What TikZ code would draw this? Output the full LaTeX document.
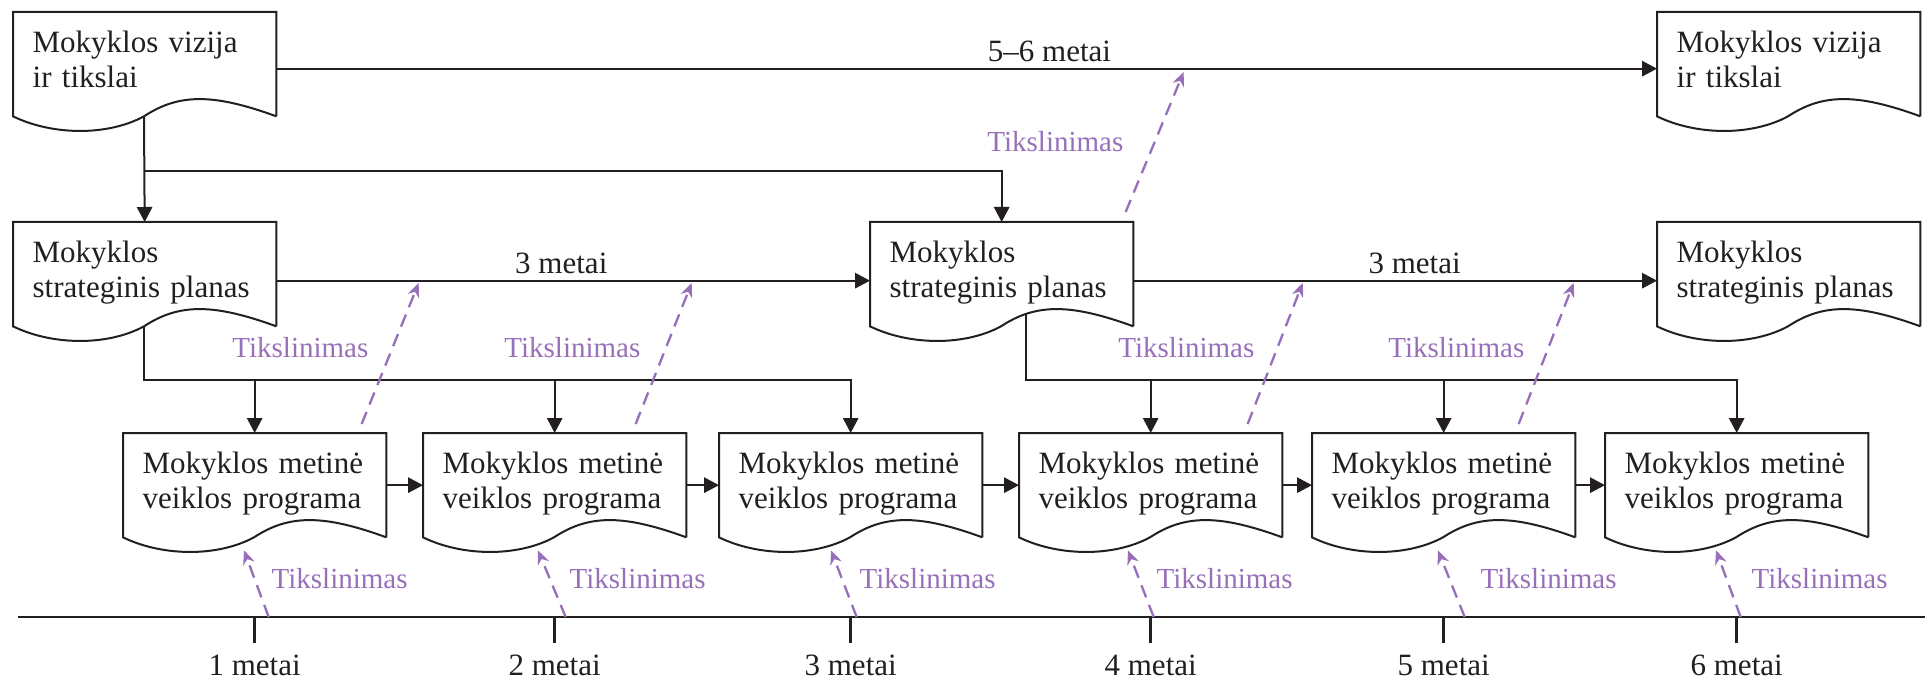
\documentclass[tikz,border=0pt]{standalone}
\usepackage{fontspec}
\setmainfont{Liberation Serif}
\usetikzlibrary{arrows.meta,calc}
\definecolor{ink}{HTML}{231F20}
\definecolor{fixcol}{HTML}{9870BA}
\begin{document}
\begin{tikzpicture}[x=0.3pt,y=-0.3pt,
    font=\fontsize{9.3}{10.5}\selectfont,color=ink,
    doc/.style={rectangle,anchor=north west,inner xsep=5.7pt,inner ysep=0pt,
      minimum width=78.6pt,minimum height=30.9pt,text width=67.2pt,align=left,
      text height=6.3pt,text depth=13.2pt},
    outline/.style={draw=ink,line width=0.6pt},
    conn/.style={draw=ink,line width=0.6pt,-{Triangle[length=4.5pt,width=4.6pt]}},
    lbl/.style={above,inner sep=1.8pt},
    axis/.style={draw=ink,line width=0.8pt},
    year/.style={anchor=base,inner sep=0pt},
    fix/.style={draw=fixcol,line width=0.7pt,dash pattern=on 3.9pt off 2.4pt,
      -{Stealth[length=4.2pt,width=3.6pt]}},
    fixlbl/.style={text=fixcol,font=\fontsize{8.7}{10}\selectfont,inner sep=0pt}]
      \useasboundingbox (0,0) rectangle (1925,679);
      \path
        (13,12) node[doc] (v1) {Mokyklos vizija\\ir tikslai}
        (1657,12) node[doc] (v2) {Mokyklos vizija\\ir tikslai}
        (13,222) node[doc] (s1) {Mokyklos\\strateginis planas}
        (870,222) node[doc] (s2) {Mokyklos\\strateginis planas}
        (1657,222) node[doc] (s3) {Mokyklos\\strateginis planas}
        (123,433) node[doc] (a1) {Mokyklos metinė\\veiklos programa}
        (423,433) node[doc] (a2) {Mokyklos metinė\\veiklos programa}
        (719,433) node[doc] (a3) {Mokyklos metinė\\veiklos programa}
        (1019,433) node[doc] (a4) {Mokyklos metinė\\veiklos programa}
        (1312,433) node[doc] (a5) {Mokyklos metinė\\veiklos programa}
        (1605,433) node[doc] (a6) {Mokyklos metinė\\veiklos programa};
      \foreach \n in {v1,v2,s1,s2,s3,a1,a2,a3,a4,a5,a6}
        \draw[outline] (\n.south east) -- (\n.north east) -- (\n.north west) -- (\n.south west)
          .. controls +(39,19) and +(-37,20) .. ($(\n.south west)+(131,0)$) coordinate (w\n)
          .. controls +(35,-23) and +(-63,-23) .. (\n.south east);
      \coordinate (vbus) at (0,171);
      \coordinate (abus) at (0,380);
      \coordinate (s2o) at ($(s2.south west)+(156,-12)$);
      \coordinate (ax0) at (18,617);
      \coordinate (ax1) at (1925,617);
      \begin{scope}[conn]
        \draw ([yshift=-1.35pt]v1.east) -- node[lbl,pos=0.56] (l1) {5–6 metai} ([yshift=-1.35pt]v2.west);
        \draw ([yshift=-1.95pt]s1.east) -- node[lbl,pos=0.48] (l2) {3 metai} ([yshift=-1.95pt]s2.west);
        \draw ([yshift=-1.95pt]s2.east) -- node[lbl,pos=0.537] (l3) {3 metai} ([yshift=-1.95pt]s3.west);
        \draw (wv1) -- (s1.north);
        \draw (wv1 |- vbus) -| (s2.north);
        \draw (ws1) |- (abus -| a3.north) -- (a3.north);
        \draw (abus -| a1.north) -- (a1.north);
        \draw (abus -| a2.north) -- (a2.north);
        \draw (s2o) |- (abus -| a6.north) -- (a6.north);
        \draw (abus -| a4.north) -- (a4.north);
        \draw (abus -| a5.north) -- (a5.north);
        \draw (a1) -- (a2);
        \draw (a2) -- (a3);
        \draw (a3) -- (a4);
        \draw (a4) -- (a5);
        \draw (a5) -- (a6);
      \end{scope}
      \draw[axis] (ax0) -- (ax1);
      \foreach \i in {1,...,6}
        \draw[axis] (ax0 -| a\i.north) coordinate (k\i) -- ++(0,26) ++(0,32) node[year] (y\i) {\i~metai};
      \begin{scope}[fix]
        \draw ($(s2.north)+(124,-10)$) -- ++(58,-140);
        \draw ($(a1.north)+(107,-9)$) -- ++(57,-141);
        \draw ($(a2.north)+(81,-9)$) -- ++(56,-141);
        \draw ($(a4.north)+(97,-9)$) -- ++(55,-141);
        \draw ($(a5.north)+(75,-9)$) -- ++(55,-141);
        \draw ($(k1)+(14,0)$) -- ($(a1.south west)+(121,13)$);
        \draw ($(k2)+(11,0)$) -- ($(a2.south west)+(115,13)$);
        \draw ($(k3)+(6,0)$) -- ($(a3.south west)+(112,13)$);
        \draw ($(k4)+(3,0)$) -- ($(a4.south west)+(109,13)$);
        \draw ($(k5)+(21,0)$) -- ($(a5.south west)+(126,13)$);
        \draw ($(k6)+(4,0)$) -- ($(a6.south west)+(111,13)$);
      \end{scope}
      \path[fixlbl]
        (1124,142) node[anchor=east] (f0) {Tikslinimas}
        (369,348) node[anchor=east] (f1) {Tikslinimas}
        (641,348) node[anchor=east] (f2) {Tikslinimas}
        (1255,348) node[anchor=east] (f3) {Tikslinimas}
        (1525,348) node[anchor=east] (f4) {Tikslinimas}
        (271,579) node[anchor=west] (g1) {Tikslinimas}
        (569,579) node[anchor=west] (g2) {Tikslinimas}
        (859,579) node[anchor=west] (g3) {Tikslinimas}
        (1156,579) node[anchor=west] (g4) {Tikslinimas}
        (1480,579) node[anchor=west] (g5) {Tikslinimas}
        (1751,579) node[anchor=west] (g6) {Tikslinimas};
    \end{tikzpicture}
\end{document}
